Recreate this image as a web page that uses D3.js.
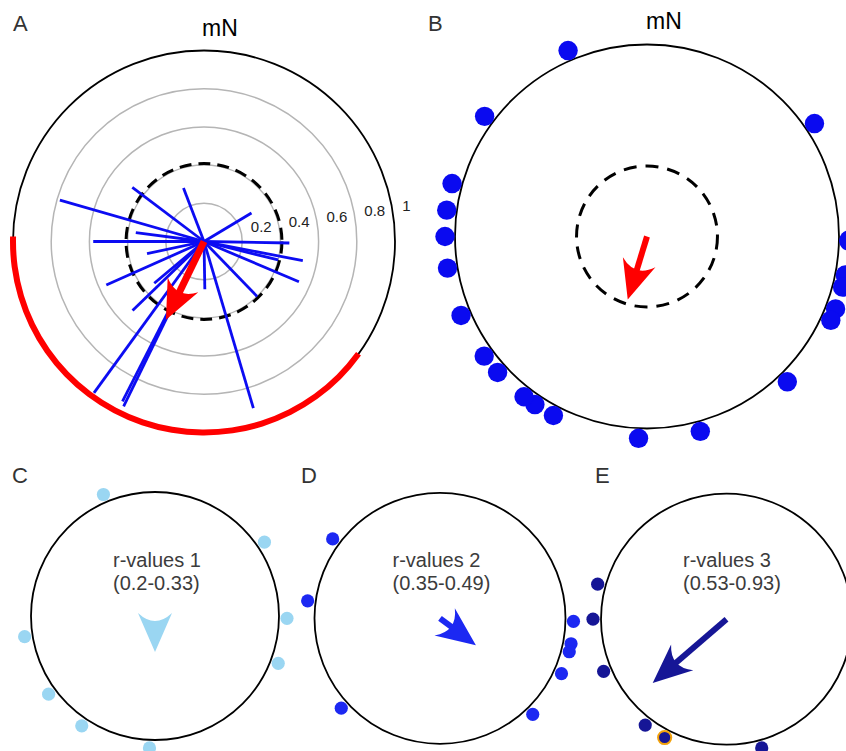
<!DOCTYPE html>
<html>
<head>
<meta charset="utf-8">
<script src="https://cdn.jsdelivr.net/npm/d3@7"></script>
<style>
  html, body { margin: 0; padding: 0; background: #fff; }
  svg { display: block; font-family: "Liberation Sans", Arial, sans-serif; }
</style>
</head>
<body>
<svg id="chart" width="846" height="751"></svg>
<script>
// ---- Panel A: individual mean vectors (heading in degrees from mN, length r)
const vectorHeadings = [286, 307, 339, 59, 91, 101, 104, 113, 136, 163.5, 179, 206, 207, 216, 226, 230, 246, 258, 270, 277.5];
const vectorLengths  = [0.785, 0.47, 0.30, 0.29, 0.447, 0.527, 0.40, 0.54, 0.40, 0.91, 0.25, 0.96, 0.94, 0.98, 0.52, 0.34, 0.56, 0.305, 0.58, 0.36];
const gridRings      = [0.2, 0.4, 0.6, 0.8];
const ringTickValues = [0.2, 0.4, 0.6, 0.8, 1];
const ringTickLabels = ["0.2", "0.4", "0.6", "0.8", "1"];
const meanVectorA    = [205.9, 0.456];     // [heading, r]
const confidenceArcA = [126, 271.5];       // heading range
const criticalRA     = 0.408;

// ---- Panel B: headings of all individuals, grand mean
const meanVectorB    = [197, 0.343];
const criticalRB     = 0.367;

// ---- Panels C-E: headings split by r-value class
const headingsC = [337, 56, 91, 111, 261, 233.7, 213.7, 182.4];
const headingsD = [306.5, 277.5, 91.3, 101, 104.5, 114.5, 136, 227.7];
const headingsE = [285.2, 270, 247, 217.5, 207.6, 164.7];
const highlightedE = [207.6];
const meanVectorC = [180, 0.29];
const meanVectorD = [126.8, 0.357];
const meanVectorE = [229.2, 0.777];
const classTitles = ["r-values 1", "r-values 2", "r-values 3"];
const classRanges = ["(0.2-0.33)", "(0.35-0.49)", "(0.53-0.93)"];

const svg = d3.select("#chart");
const toRad = d3.scaleLinear().domain([0, 360]).range([0, 2 * Math.PI]);

function polarPanel(cx, cy, R) {
  const g = svg.append("g").attr("transform", `translate(${cx},${cy})`);
  const r = d3.scaleLinear().domain([0, 1]).range([0, R]);
  return { g, r, R };
}

// arrow pointing along a heading, tip at distance len from the centre
function drawArrow(g, heading, len, color, shaftW) {
  const L = 39, W = 17, n = 8;
  const a = g.append("g").attr("transform", `rotate(${heading})`).attr("fill", color);
  const baseY = -len + L;
  if (len > L) {
    a.append("rect")
      .attr("x", -shaftW / 2).attr("y", baseY - n - 1)
      .attr("width", shaftW).attr("height", len - L + n + 1);
  }
  a.append("path")
    .attr("d", `M0,${-len} L${W},${baseY} Q0,${baseY - 2 * n} ${-W},${baseY} Z`);
}

function panelLetter(x, y, t) {
  svg.append("text").attr("x", x).attr("y", y).attr("font-size", 22)
    .attr("fill", "#333").text(t);
}

// ================= Panel A =================
{
  const { g, r, R } = polarPanel(204, 241.5, 191);
  g.selectAll("circle.grid").data(gridRings).join("circle")
    .attr("class", "grid").attr("r", d => r(d))
    .attr("fill", "none").attr("stroke", "#b5b5b5").attr("stroke-width", 1.5);
  g.append("circle").attr("r", r(1)).attr("fill", "none")
    .attr("stroke", "#000").attr("stroke-width", 1.8);
  g.append("circle").attr("r", r(criticalRA)).attr("fill", "none")
    .attr("stroke", "#000").attr("stroke-width", 3).attr("stroke-dasharray", "12 7");

  g.selectAll("text.tick").data(ringTickValues).join("text")
    .attr("class", "tick")
    .attr("x", d => d3.pointRadial(toRad(82), r(d))[0] + 9)
    .attr("y", d => d3.pointRadial(toRad(82), r(d))[1] - 9)
    .attr("dy", "0.35em").attr("font-size", 15).attr("fill", "#222")
    .text((d, i) => ringTickLabels[i]);

  g.selectAll("line.vec").data(vectorHeadings).join("line")
    .attr("class", "vec")
    .attr("x1", 0).attr("y1", 0)
    .attr("x2", (d, i) => d3.pointRadial(toRad(d), r(vectorLengths[i]))[0])
    .attr("y2", (d, i) => d3.pointRadial(toRad(d), r(vectorLengths[i]))[1])
    .attr("stroke", "#0c0cf2").attr("stroke-width", 2.8);

  drawArrow(g, meanVectorA[0], r(meanVectorA[1]), "#ff0000", 7);

  g.append("path")
    .attr("d", d3.arc().innerRadius(R - 3).outerRadius(R + 3)
      .startAngle(toRad(confidenceArcA[0])).endAngle(toRad(confidenceArcA[1]))())
    .attr("fill", "#ff0000");

  svg.append("text").attr("x", 220).attr("y", 36).attr("text-anchor", "middle")
    .attr("font-size", 23).attr("fill", "#000").text("mN");
  panelLetter(13, 31, "A");
}

// ================= Panel B =================
{
  const { g, r, R } = polarPanel(647, 236.5, 192);
  g.append("circle").attr("r", r(1)).attr("fill", "none")
    .attr("stroke", "#000").attr("stroke-width", 1.8);
  g.append("circle").attr("r", r(criticalRB)).attr("fill", "none")
    .attr("stroke", "#000").attr("stroke-width", 3).attr("stroke-dasharray", "13 9");
  drawArrow(g, meanVectorB[0], r(meanVectorB[1]), "#ff0000", 6);

  const all = headingsC.concat(headingsD, headingsE);
  g.selectAll("circle.dot").data(all).join("circle")
    .attr("class", "dot")
    .attr("cx", d => d3.pointRadial(toRad(d), R + 10)[0])
    .attr("cy", d => d3.pointRadial(toRad(d), R + 10)[1])
    .attr("r", 9.7).attr("fill", "#0a0af0");

  svg.append("text").attr("x", 664).attr("y", 28.5).attr("text-anchor", "middle")
    .attr("font-size", 23).attr("fill", "#000").text("mN");
  panelLetter(428, 31, "B");
}

// ================= Panels C, D, E =================
function classPanel(cx, cy, R, headings, mean, color, idx, textX, letter, letterX) {
  const { g, r } = polarPanel(cx, cy, R);
  g.append("circle").attr("r", r(1)).attr("fill", "none")
    .attr("stroke", "#000").attr("stroke-width", 1.8);
  const t = svg.append("text").attr("font-size", 20).attr("fill", "#3c3c3c");
  t.append("tspan").attr("x", textX).attr("y", 567).text(classTitles[idx]);
  t.append("tspan").attr("x", textX).attr("y", 590).text(classRanges[idx]);
  drawArrow(g, mean[0], r(mean[1]), color, 6);
  g.selectAll("circle.dot").data(headings).join("circle")
    .attr("class", "dot")
    .attr("cx", d => d3.pointRadial(toRad(d), R + 8)[0])
    .attr("cy", d => d3.pointRadial(toRad(d), R + 8)[1])
    .attr("r", 6.6).attr("fill", color)
    .attr("stroke", d => highlightedE.includes(d) && idx === 2 ? "#f2a20c" : "none")
    .attr("stroke-width", 2);
  panelLetter(letterX, 483, letter);
}

classPanel(155, 616, 124, headingsC, meanVectorC, "#9ad6f2", 0, 113, "C", 12);
classPanel(440, 618.3, 125.5, headingsD, meanVectorD, "#1c28f2", 1, 392.5, "D", 301);
classPanel(726.5, 619.2, 125.5, headingsE, meanVectorE, "#161696", 2, 683, "E", 595);
</script>
</body>
</html>
